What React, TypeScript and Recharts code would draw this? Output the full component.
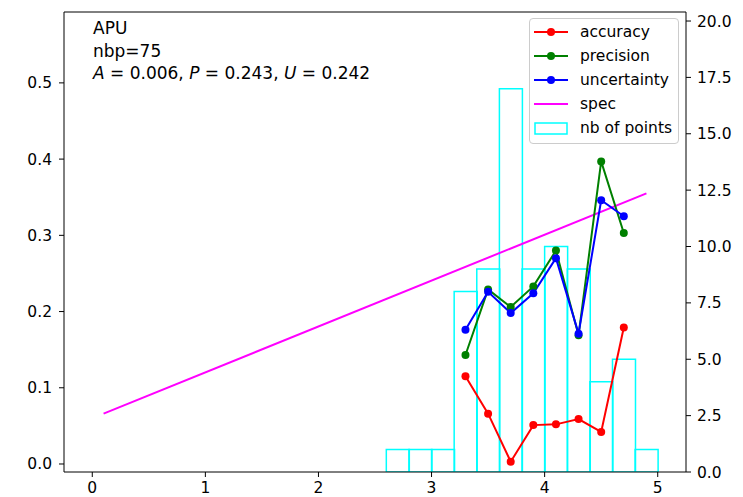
import React from 'react';
import {
  ComposedChart,
  Line,
  Bar,
  XAxis,
  YAxis,
  Legend,
  ReferenceLine,
} from 'recharts';

// histogram of points per bin (right axis)
const binCenters = [2.7, 2.9, 3.1, 3.3, 3.5, 3.7, 3.9, 4.1, 4.3, 4.5, 4.7, 4.9];
const binCounts = [1, 1, 1, 8, 9, 17, 9, 10, 9, 4, 5, 1];

// metrics per bin (left axis)
const metricX = [3.3, 3.5, 3.7, 3.9, 4.1, 4.3, 4.5, 4.7];
const accuracy = [0.115, 0.066, 0.003, 0.051, 0.052, 0.059, 0.042, 0.179];
const precision = [0.143, 0.229, 0.206, 0.233, 0.28, 0.169, 0.397, 0.303];
const uncertainty = [0.176, 0.226, 0.198, 0.224, 0.27, 0.171, 0.346, 0.325];

const specX = [0.1, 4.9];
const specY = [0.066, 0.355];

const xTicks = [0, 1, 2, 3, 4, 5];
const leftTicks = [0, 0.1, 0.2, 0.3, 0.4, 0.5];
const rightTicks = [0, 2.5, 5, 7.5, 10, 12.5, 15, 17.5, 20];

const LEFT_DOMAIN = [-0.0105, 0.593];

const FONT = '"DejaVu Sans", sans-serif';

const LEGEND_ITEMS = [
  { label: 'accuracy', color: '#ff0000', kind: 'marker' },
  { label: 'precision', color: '#008000', kind: 'marker' },
  { label: 'uncertainty', color: '#0000ff', kind: 'marker' },
  { label: 'spec', color: '#ff00ff', kind: 'line' },
  { label: 'nb of points', color: '#00ffff', kind: 'box' },
];

function buildRows() {
  const rows: Record<string, any> = {};
  const row = (x: number) => {
    const k = x.toFixed(1);
    if (!rows[k]) rows[k] = { x };
    return rows[k];
  };
  binCenters.forEach((x, i) => (row(x).count = binCounts[i]));
  metricX.forEach((x, i) => {
    row(x).accuracy = accuracy[i];
    row(x).precision = precision[i];
    row(x).uncertainty = uncertainty[i];
  });
  specX.forEach((x, i) => (row(x).spec = specY[i]));
  return Object.values(rows).sort((a: any, b: any) => a.x - b.x);
}

const data = buildRows();

function LegendBox() {
  return (
    <div
      style={{
        boxSizing: 'border-box',
        width: 150,
        height: 126,
        border: '1px solid #cccccc',
        borderRadius: 4,
        background: 'rgba(255,255,255,0.8)',
        fontFamily: FONT,
        fontSize: 15.5,
        color: '#000',
        paddingTop: 1,
      }}
    >
      {LEGEND_ITEMS.map((it) => (
        <div key={it.label} style={{ display: 'flex', alignItems: 'center', height: 24 }}>
          <svg width={50} height={20} style={{ flex: 'none' }}>
            {it.kind === 'box' ? (
              <rect x={5} y={5} width={32} height={11} fill="none" stroke={it.color} strokeWidth={1.5} />
            ) : (
              <line x1={4} x2={38} y1={10} y2={10} stroke={it.color} strokeWidth={2} />
            )}
            {it.kind === 'marker' && <circle cx={21} cy={10} r={4} fill={it.color} />}
          </svg>
          <span>{it.label}</span>
        </div>
      ))}
    </div>
  );
}

export default function App() {
  const tickStyle = { fill: '#000', fontSize: 15.5, fontFamily: FONT };
  return (
    <div style={{ position: 'fixed', left: 0, top: 0, width: 743, height: 497, background: '#fff' }}>
      <ComposedChart
        width={743}
        height={497}
        data={data}
        margin={{ top: 12, right: 0, bottom: 0, left: 0 }}
        barCategoryGap={0}
        barGap={0}
      >
        <XAxis
          dataKey="x"
          type="number"
          domain={[-0.25, 5.25]}
          ticks={xTicks}
          allowDataOverflow
          height={25}
          tick={tickStyle}
          tickSize={5}
          tickMargin={5}
          stroke="#000"
        />
        <YAxis
          yAxisId="left"
          domain={LEFT_DOMAIN}
          ticks={leftTicks}
          allowDataOverflow
          width={64}
          tick={tickStyle}
          tickSize={5}
          tickMargin={7}
          tickFormatter={(v: number) => v.toFixed(1)}
          stroke="#000"
        />
        <YAxis
          yAxisId="right"
          orientation="right"
          domain={[0, 20.4]}
          ticks={rightTicks}
          allowDataOverflow
          width={57}
          tick={tickStyle}
          tickSize={5}
          tickMargin={6}
          tickFormatter={(v: number) => v.toFixed(1)}
          stroke="#000"
        />
        {/* top spine */}
        <ReferenceLine yAxisId="left" y={LEFT_DOMAIN[1]} stroke="#000" strokeWidth={1} />
        <Bar
          yAxisId="right"
          dataKey="count"
          fill="none"
          stroke="#00ffff"
          strokeWidth={1.5}
          isAnimationActive={false}
        />
        <Line
          yAxisId="left"
          dataKey="spec"
          stroke="#ff00ff"
          strokeWidth={2}
          dot={false}
          connectNulls
          isAnimationActive={false}
        />
        <Line
          yAxisId="left"
          dataKey="accuracy"
          stroke="#ff0000"
          strokeWidth={2}
          dot={{ r: 4, fill: '#ff0000', stroke: 'none' }}
          isAnimationActive={false}
        />
        <Line
          yAxisId="left"
          dataKey="precision"
          stroke="#008000"
          strokeWidth={2}
          dot={{ r: 4, fill: '#008000', stroke: 'none' }}
          isAnimationActive={false}
        />
        <Line
          yAxisId="left"
          dataKey="uncertainty"
          stroke="#0000ff"
          strokeWidth={2}
          dot={{ r: 4, fill: '#0000ff', stroke: 'none' }}
          isAnimationActive={false}
        />
        <Legend
          layout="vertical"
          align="center"
          verticalAlign="middle"
          content={() => <LegendBox />}
          wrapperStyle={{ left: 529, top: 18, width: 150, height: 126 }}
        />
      </ComposedChart>
      <div
        style={{
          position: 'absolute',
          left: 93,
          top: 17,
          fontFamily: FONT,
          fontSize: 17,
          lineHeight: '22.5px',
          color: '#000',
        }}
      >
        <div>APU</div>
        <div>nbp=75</div>
        <div>
          <i>A</i> = 0.006, <i>P</i> = 0.243, <i>U</i> = 0.242
        </div>
      </div>
    </div>
  );
}
